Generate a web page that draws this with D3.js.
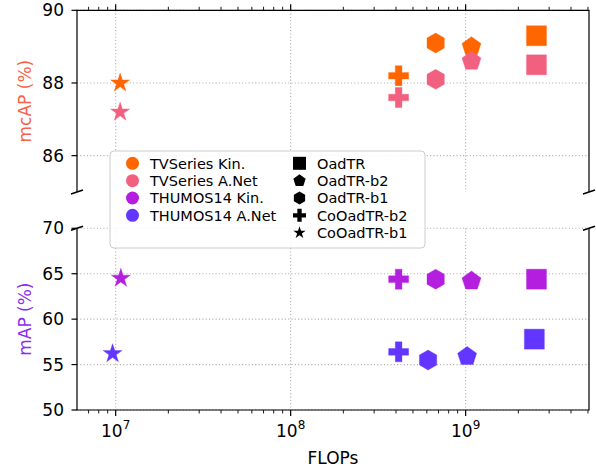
<!DOCTYPE html>
<html>
<head>
<meta charset="utf-8">
<script src="https://cdn.jsdelivr.net/npm/d3@7"></script>
<style>
  html, body { margin: 0; padding: 0; background: #fff; }
  svg { display: block; font-family: "DejaVu Sans", sans-serif; }
</style>
</head>
<body>
<div id="chart"></div>
<script>
// ---------------- data ----------------
const models = ["OadTR", "OadTR-b2", "OadTR-b1", "CoOadTR-b2", "CoOadTR-b1"];
const shapes = ["square", "pentagon", "hexagon", "plus", "star"];
const datasets = ["TVSeries Kin.", "TVSeries A.Net", "THUMOS14 Kin.", "THUMOS14 A.Net"];
const datasetColors = ["#ff6600", "#f2607f", "#b41fdf", "#6236ff"];

const tvKinFlops   = [2.54e9, 1.08e9, 6.74e8, 4.14e8, 1.06e7];
const tvKinMcap    = [89.3, 89.0, 89.1, 88.2, 88.0];
const tvAnetFlops  = [2.54e9, 1.08e9, 6.74e8, 4.14e8, 1.06e7];
const tvAnetMcap   = [88.5, 88.6, 88.1, 87.6, 87.2];
const thKinFlops   = [2.54e9, 1.08e9, 6.74e8, 4.14e8, 1.07e7];
const thKinMap     = [64.4, 64.2, 64.4, 64.4, 64.5];
const thAnetFlops  = [2.47e9, 1.02e9, 6.1e8, 4.14e8, 9.6e6];
const thAnetMap    = [57.8, 55.9, 55.5, 56.4, 56.2];

const topTicks = [86, 88, 90];
const bottomTicks = [50, 55, 60, 65, 70];
const xMajorTicks = [1e7, 1e8, 1e9];
const xTickExp = ["7", "8", "9"];

// ---------------- layout ----------------
const W = 596, H = 467;
const left = 77, right = 589;
const topY0 = 10.3, topY1 = 192;
const botY0 = 228.3, botY1 = 410;

const svg = d3.select("#chart").append("svg").attr("width", W).attr("height", H);

const x = d3.scaleLog().domain([6.01e6, 5.07e9]).range([left, right]);
const yTop = d3.scaleLinear().domain([85, 90]).range([topY1, topY0]);
const yBot = d3.scaleLinear().domain([50, 70]).range([botY1, botY0]);

// minor ticks
const xMinor = [];
for (let e = 6; e <= 9; e++) for (let k = 2; k <= 9; k++) {
  const v = k * Math.pow(10, e);
  if (v >= x.domain()[0] && v <= x.domain()[1]) xMinor.push(v);
}

const gridColor = "#b0b0b0";
function grid(y, ticks, y0, y1) {
  const g = svg.append("g");
  g.selectAll("line.h").data(ticks).join("line")
    .attr("x1", left).attr("x2", right)
    .attr("y1", d => y(d)).attr("y2", d => y(d))
    .attr("stroke", gridColor).attr("stroke-width", 1.1).attr("stroke-dasharray", "1.1,2.2");
  g.selectAll("line.v").data(xMajorTicks).join("line")
    .attr("x1", d => x(d)).attr("x2", d => x(d))
    .attr("y1", y0).attr("y2", y1)
    .attr("stroke", gridColor).attr("stroke-width", 1.1).attr("stroke-dasharray", "1.1,2.2");
}
grid(yTop, topTicks, topY0, topY1);
grid(yBot, bottomTicks, botY0, botY1);

// ---------------- markers ----------------
function shapePath(shape, m) {
  const r = m / 2;
  const poly = (n, startDeg, radii) => {
    const pts = [];
    for (let i = 0; i < n; i++) {
      const a = (startDeg + i * 360 / n) * Math.PI / 180;
      const rr = radii[i % radii.length];
      pts.push([rr * Math.cos(a), rr * Math.sin(a)]);
    }
    return "M" + pts.map(p => p[0].toFixed(2) + "," + p[1].toFixed(2)).join("L") + "Z";
  };
  switch (shape) {
    case "square": return `M${-r},${-r}H${r}V${r}H${-r}Z`;
    case "pentagon": return poly(5, -90, [r]);
    case "hexagon": return poly(6, -90, [r]);
    case "star": return poly(10, -90, [r, r * 0.381966]);
    case "plus": {
      const a = m / 6, b = m / 2;
      const pts = [[-a,-b],[a,-b],[a,-a],[b,-a],[b,a],[a,a],[a,b],[-a,b],[-a,a],[-b,a],[-b,-a],[-a,-a]];
      return "M" + pts.map(p => p.join(",")).join("L") + "Z";
    }
    case "circle": return `M${r},0A${r},${r} 0 1,1 ${-r},0A${r},${r} 0 1,1 ${r},0Z`;
  }
}

const M = 20;
function series(flops, vals, y, color) {
  const data = flops.map((f, i) => ({ f, v: vals[i], shape: shapes[i] }));
  svg.append("g").selectAll("path").data(data).join("path")
    .attr("transform", d => `translate(${x(d.f)},${y(d.v)})`)
    .attr("d", d => shapePath(d.shape, M))
    .attr("fill", color)
    .attr("stroke", color).attr("stroke-width", 0.6).attr("stroke-opacity", 0.6);
}
series(tvKinFlops, tvKinMcap, yTop, datasetColors[0]);
series(tvAnetFlops, tvAnetMcap, yTop, datasetColors[1]);
series(thKinFlops, thKinMap, yBot, datasetColors[2]);
series(thAnetFlops, thAnetMap, yBot, datasetColors[3]);

// ---------------- spines & ticks ----------------
const axisG = svg.append("g").attr("stroke", "#000").attr("stroke-width", 1.2).attr("fill", "none");
// top axes spines
axisG.append("path").attr("d", `M${left},${topY1}V${topY0}H${right}V${topY1}`);
// bottom axes spines
axisG.append("path").attr("d", `M${left},${botY0}V${botY1}H${right}V${botY0}`);

// y ticks
function yTicks(y, ticks) {
  axisG.append("g").selectAll("line").data(ticks).join("line")
    .attr("x1", left - 5.5).attr("x2", left)
    .attr("y1", d => y(d)).attr("y2", d => y(d));
  svg.append("g").selectAll("text").data(ticks).join("text")
    .attr("x", left - 13).attr("y", d => y(d))
    .attr("dy", "0.36em")
    .attr("text-anchor", "end")
    .attr("font-size", 17).attr("fill", "#000")
    .text(d => d);
}
yTicks(yTop, topTicks);
yTicks(yBot, bottomTicks);

// x ticks (bottom of lower axes, top of upper axes)
axisG.append("g").selectAll("line").data(xMajorTicks).join("line")
  .attr("x1", d => x(d)).attr("x2", d => x(d)).attr("y1", botY1).attr("y2", botY1 + 6);
axisG.append("g").selectAll("line").data(xMinor).join("line")
  .attr("x1", d => x(d)).attr("x2", d => x(d)).attr("y1", botY1).attr("y2", botY1 + 3.5)
  .attr("stroke-width", 0.9);
axisG.append("g").selectAll("line").data(xMajorTicks).join("line")
  .attr("x1", d => x(d)).attr("x2", d => x(d)).attr("y1", topY0).attr("y2", topY0 - 6);
axisG.append("g").selectAll("line").data(xMinor).join("line")
  .attr("x1", d => x(d)).attr("x2", d => x(d)).attr("y1", topY0).attr("y2", topY0 - 3.5)
  .attr("stroke-width", 0.9);

const xt = svg.append("g").selectAll("text").data(xMajorTicks).join("text")
  .attr("x", d => x(d)).attr("y", 437)
  .attr("text-anchor", "middle").attr("font-size", 17).attr("fill", "#000");
xt.append("tspan").text("10");
xt.append("tspan").attr("dy", -8).attr("font-size", 12).text((d, i) => xTickExp[i]);

// break marks
const breaks = [[left, topY1], [right, topY1], [left, botY0], [right, botY0]];
svg.append("g").selectAll("line").data(breaks).join("line")
  .attr("x1", d => d[0] - 6).attr("y1", d => d[1] + 2)
  .attr("x2", d => d[0] + 6).attr("y2", d => d[1] - 2)
  .attr("stroke", "#000").attr("stroke-width", 1.5);

// axis labels
svg.append("text").attr("x", (left + right) / 2).attr("y", 464)
  .attr("text-anchor", "middle").attr("font-size", 17).attr("fill", "#000").text("FLOPs");
svg.append("text")
  .attr("transform", `translate(31,${(topY0 + topY1) / 2}) rotate(-90)`)
  .attr("text-anchor", "middle").attr("font-size", 17).attr("fill", "#f7634a").text("mcAP (%)");
svg.append("text")
  .attr("transform", `translate(31,${(botY0 + botY1) / 2}) rotate(-90)`)
  .attr("text-anchor", "middle").attr("font-size", 17).attr("fill", "#8c2cef").text("mAP (%)");

// ---------------- legend ----------------
const lg = svg.append("g");
lg.append("rect").attr("x", 110).attr("y", 151).attr("width", 315).attr("height", 97)
  .attr("rx", 4).attr("fill", "#fff").attr("fill-opacity", 0.85)
  .attr("stroke", "#cccccc").attr("stroke-width", 1);
const rowY = i => 163.3 + i * 17.35;
const c1 = lg.selectAll("g.c1").data(datasets).join("g")
  .attr("transform", (d, i) => `translate(0,${rowY(i)})`);
c1.append("path").attr("transform", "translate(132.5,0)")
  .attr("d", shapePath("circle", 13)).attr("fill", (d, i) => datasetColors[i]);
c1.append("text").attr("x", 150).attr("dy", "0.36em").attr("font-size", 14.5).attr("fill", "#000").text(d => d);
const c2 = lg.selectAll("g.c2").data(models).join("g")
  .attr("transform", (d, i) => `translate(0,${rowY(i)})`);
c2.append("path").attr("transform", "translate(299.5,0)")
  .attr("d", (d, i) => shapePath(shapes[i], 13)).attr("fill", "#000");
c2.append("text").attr("x", 317).attr("dy", "0.36em").attr("font-size", 14.5).attr("fill", "#000").text(d => d);
</script>
</body>
</html>
